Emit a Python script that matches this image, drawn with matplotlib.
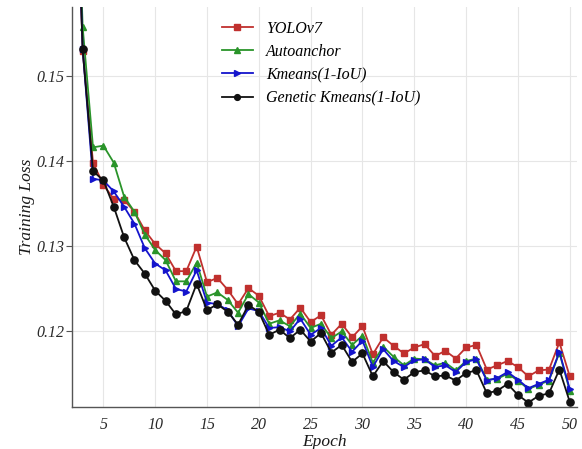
import matplotlib
matplotlib.use("Agg")
import matplotlib.pyplot as plt

# training loss per epoch for each anchor setting (epochs 2..50)
epochs = list(range(2, 51))

yolov7 = [
    0.1905, 0.1530, 0.1398, 0.1372, 0.1355, 0.1354, 0.1340, 0.1318, 0.1302,
    0.1291, 0.1270, 0.1270, 0.1299, 0.1257, 0.1262, 0.1248, 0.1231, 0.1250,
    0.1241, 0.1217, 0.1221, 0.1213, 0.1227, 0.1210, 0.1218, 0.1195, 0.1208,
    0.1192, 0.1205, 0.1172, 0.1192, 0.1182, 0.1173, 0.1180, 0.1184, 0.1170,
    0.1176, 0.1167, 0.1180, 0.1183, 0.1154, 0.1159, 0.1164, 0.1157, 0.1146,
    0.1153, 0.1154, 0.1186, 0.1146,
]
autoanchor = [
    0.1930, 0.1558, 0.1416, 0.1418, 0.1398, 0.1358, 0.1340, 0.1313, 0.1295,
    0.1283, 0.1258, 0.1258, 0.1280, 0.1240, 0.1245, 0.1236, 0.1221, 0.1243,
    0.1233, 0.1208, 0.1212, 0.1205, 0.1220, 0.1203, 0.1208, 0.1191, 0.1199,
    0.1183, 0.1194, 0.1162, 0.1181, 0.1169, 0.1159, 0.1167, 0.1166, 0.1159,
    0.1162, 0.1153, 0.1164, 0.1167, 0.1142, 0.1143, 0.1149, 0.1141, 0.1131,
    0.1136, 0.1141, 0.1174, 0.1129,
]
kmeans = [
    0.1905, 0.1532, 0.1379, 0.1377, 0.1364, 0.1346, 0.1326, 0.1297, 0.1279,
    0.1271, 0.1249, 0.1246, 0.1271, 0.1233, 0.1231, 0.1224, 0.1205, 0.1226,
    0.1223, 0.1203, 0.1204, 0.1199, 0.1214, 0.1195, 0.1203, 0.1182, 0.1192,
    0.1175, 0.1188, 0.1157, 0.1178, 0.1164, 0.1157, 0.1165, 0.1166, 0.1157,
    0.1159, 0.1151, 0.1163, 0.1166, 0.1141, 0.1144, 0.1151, 0.1142, 0.1132,
    0.1137, 0.1142, 0.1175, 0.1131,
]
genetic = [
    0.1906, 0.1532, 0.1388, 0.1377, 0.1346, 0.1310, 0.1283, 0.1267, 0.1247,
    0.1235, 0.1219, 0.1223, 0.1255, 0.1224, 0.1231, 0.1222, 0.1207, 0.1230,
    0.1222, 0.1195, 0.1201, 0.1191, 0.1201, 0.1187, 0.1197, 0.1174, 0.1183,
    0.1163, 0.1173, 0.1146, 0.1164, 0.1151, 0.1142, 0.1151, 0.1153, 0.1146,
    0.1147, 0.1141, 0.1150, 0.1153, 0.1126, 0.1129, 0.1137, 0.1124, 0.1115,
    0.1123, 0.1126, 0.1154, 0.1116,
]

plt.rcParams["font.family"] = "Liberation Serif"
plt.rcParams["font.style"] = "italic"

fig = plt.figure(figsize=(5.82, 4.49), dpi=100)
ax = fig.add_axes([0.1242, 0.0935, 0.8672, 0.8909])

series = [
    (yolov7, "YOLOv7", "#c0302e", "s", 4.6),
    (autoanchor, "Autoanchor", "#2a942a", "^", 5.0),
    (kmeans, "Kmeans(1-IoU)", "#1414cc", ">", 5.0),
    (genetic, "Genetic Kmeans(1-IoU)", "#111111", "o", 5.2),
]
for vals, name, col, mk, ms in series:
    ax.plot(epochs, vals, color=col, marker=mk, markersize=ms, linewidth=1.3,
            markeredgecolor=col, label=name)

ax.set_xlim(2, 50.7)
ax.set_ylim(0.11098, 0.15815)
ax.set_xticks([5, 10, 15, 20, 25, 30, 35, 40, 45, 50])
ax.set_yticks([0.12, 0.13, 0.14, 0.15])
ax.set_yticklabels(["0.12", "0.13", "0.14", "0.15"])
ax.grid(True, color="#e6e6e6", linewidth=0.8)
ax.set_axisbelow(True)

for side in ("top", "right"):
    ax.spines[side].set_visible(False)
for side in ("left", "bottom"):
    ax.spines[side].set_color("#555555")
    ax.spines[side].set_linewidth(1.0)

ax.tick_params(axis="y", length=4, color="#555555", labelsize=11.5,
               labelcolor="#2a2a2a", pad=2)
ax.tick_params(axis="x", length=0, labelsize=11.5, labelcolor="#2a2a2a", pad=7)

ax.set_xlabel("Epoch", fontsize=12.5, color="#1a1a1a", labelpad=1)
ax.set_ylabel("Training Loss", fontsize=12.5, color="#1a1a1a", labelpad=1)

ax.legend(loc="upper left", bbox_to_anchor=(0.283, 0.982), frameon=False,
          fontsize=11.5, handlelength=2.0, handletextpad=0.8,
          labelspacing=0.45, borderaxespad=0, markerscale=0.8)

fig.savefig("out.png", dpi=100)
